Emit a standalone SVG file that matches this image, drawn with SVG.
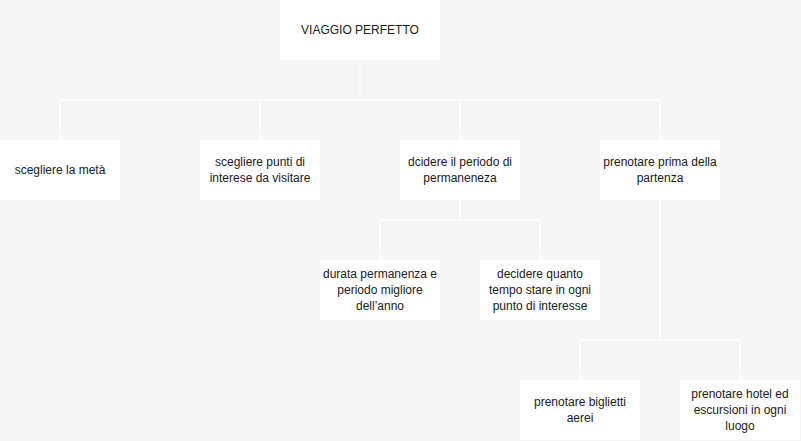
<svg xmlns="http://www.w3.org/2000/svg" width="801" height="441" viewBox="0 0 801 441">
<style>
.n{fill:#ffffff;stroke:none}
.t{font-family:"Liberation Sans",Arial,sans-serif;font-size:12px;fill:#1a1a1a;text-anchor:middle}
.e{fill:none;stroke:#ffffff;stroke-width:1}
</style>
<defs>
<marker id="a" markerWidth="10" markerHeight="10" refX="5" refY="8" orient="auto" markerUnits="userSpaceOnUse" viewBox="0 0 10 10">
<path d="M2,3 L5,8 L8,3" fill="none" stroke="#ffffff" stroke-width="1.3"/>
</marker>
</defs>
<rect width="801" height="441" fill="#f5f5f5"/>
<g id="connectors">
<path class="e" d="M360,60 V100 H60 V138" marker-end="url(#a)"/>
<path class="e" d="M360,100 H260 V138" marker-end="url(#a)"/>
<path class="e" d="M360,100 H460 V138" marker-end="url(#a)"/>
<path class="e" d="M360,100 H660 V138" marker-end="url(#a)"/>
<path class="e" d="M460,200 V220 H380 V258" marker-end="url(#a)"/>
<path class="e" d="M460,220 H540 V258" marker-end="url(#a)"/>
<path class="e" d="M660,200 V340 H580 V378" marker-end="url(#a)"/>
<path class="e" d="M660,340 H740 V378" marker-end="url(#a)"/>
</g>
<g id="root"><rect class="n" x="280" y="0" width="160" height="60"/><text class="t" x="360" y="34">VIAGGIO PERFETTO</text></g>
<g id="n1"><rect class="n" x="0" y="140" width="120" height="60"/><text class="t" x="60" y="174">scegliere la metà</text></g>
<g id="n2"><rect class="n" x="200" y="140" width="120" height="60"/><text class="t" x="260" y="166">scegliere punti di</text><text class="t" x="260" y="182">interese da visitare</text></g>
<g id="n3"><rect class="n" x="400" y="140" width="120" height="60"/><text class="t" x="460" y="166">dcidere il periodo di</text><text class="t" x="460" y="182">permaneneza</text></g>
<g id="n4"><rect class="n" x="600" y="140" width="120" height="60"/><text class="t" x="660" y="166">prenotare prima della</text><text class="t" x="660" y="182">partenza</text></g>
<g id="n5"><rect class="n" x="320" y="260" width="120" height="60"/><text class="t" x="380" y="278">durata permanenza e</text><text class="t" x="380" y="294">periodo migliore</text><text class="t" x="380" y="310">dell’anno</text></g>
<g id="n6"><rect class="n" x="480" y="260" width="120" height="60"/><text class="t" x="540" y="278">decidere quanto</text><text class="t" x="540" y="294">tempo stare in ogni</text><text class="t" x="540" y="310">punto di interesse</text></g>
<g id="n7"><rect class="n" x="520" y="380" width="120" height="60"/><text class="t" x="580" y="406">prenotare biglietti</text><text class="t" x="580" y="422">aerei</text></g>
<g id="n8"><rect class="n" x="680" y="380" width="120" height="60"/><text class="t" x="740" y="398">prenotare hotel ed</text><text class="t" x="740" y="414">escursioni in ogni</text><text class="t" x="740" y="430">luogo</text></g>
</svg>
